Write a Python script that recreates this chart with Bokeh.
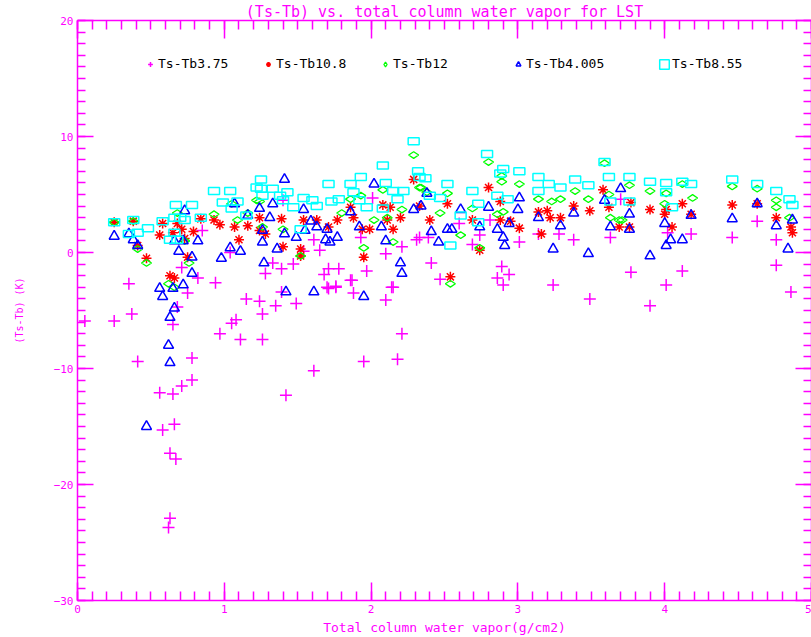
from bokeh.plotting import figure
from bokeh.models import Range1d, LinearAxis, SingleIntervalTicker, Legend, LegendItem, CustomJSTickFormatter
from bokeh.embed import file_html
from bokeh.resources import INLINE

# ---------------- data ----------------
wv_375 = [0.05, 0.35, 0.25, 0.37, 0.41, 0.65, 0.75, 0.68, 0.78, 0.78, 0.71, 0.56, 0.65, 0.66, 0.58, 0.63, 0.67, 0.63, 0.62,
          0.94, 1.15, 1.24, 1.35, 1.49, 1.26, 1.08, 1.05, 0.97, 1.11, 1.26,
          1.39, 1.71, 1.76, 1.88, 1.87, 2.14, 2.10, 2.21, 1.95, 2.18, 1.61, 1.42,
          2.41, 2.47, 2.89, 2.94, 2.86, 2.90, 3.24, 3.49, 3.77, 3.90, 4.01, 4.12, 4.76, 4.86,
          2.33, 2.39, 2.60, 2.74, 2.69, 2.81, 3.01, 3.14, 3.28, 3.38, 3.63, 4.02, 4.18, 4.46, 4.63, 4.76, 3.70,
          1.40, 1.61, 1.65, 1.54, 1.39, 1.47, 1.33, 1.28, 1.71, 1.68, 1.78, 1.97, 1.86, 1.76, 1.70, 1.93, 2.10, 2.21, 2.31, 2.01, 2.15,
          0.71, 0.82, 0.85, 1.04]
dt_375 = [-5.9, -2.7, -5.9, -5.3, -9.4, -6.2, -3.5, -4.7, -9.1, -11.0, -11.5, -12.1, -12.2, -14.8, -15.3, -17.3, -17.8, -22.9, -23.7,
          -2.6, -4.0, -4.2, -4.6, -4.4, -5.3, -5.8, -6.1, -7.0, -7.5, -7.5,
          -3.4, -3.1, -3.0, -3.5, -2.4, -3.0, -4.1, -7.0, -9.4, -9.2, -10.2, -12.3,
          -0.9, -2.3, -1.2, -1.9, -2.2, -2.8, -2.8, -4.0, -1.7, -4.6, -2.8, -1.6, -1.1, -3.4,
          1.3, 1.3, 2.5, 1.5, 0.7, 2.8, 0.9, 1.6, 1.6, 1.1, 1.3, 1.7, 1.6, 1.3, 2.7, 1.1, 4.6,
          4.5, 1.1, 0.2, 0.1, -1.4, -1.0, -0.9, -1.8, -1.4, -1.9, -1.4, -1.6, -2.4, -2.9, -3.0, 1.3, -0.1, 0.5, 1.1, 4.7, -3.0,
          -1.3, -2.2, 1.9, 0.0]

wv_108 = [0.25, 0.38, 0.41, 0.47, 0.56, 0.58, 0.65, 0.68, 0.71, 0.79, 0.75, 0.63, 0.66, 0.93, 0.97, 1.07, 1.10, 1.16, 0.84, 0.73,
          1.24, 1.24, 1.28, 1.39, 1.40, 1.52, 1.52, 1.54, 1.63, 1.71, 1.77, 1.86, 1.88, 1.94, 1.95, 1.99, 2.08, 2.11, 2.15, 2.20, 2.29, 2.33, 2.13,
          2.40, 2.52, 2.54, 2.74, 2.80, 2.88, 2.69, 2.88, 2.95, 3.01, 3.14, 3.20, 3.22, 3.29, 3.38, 3.49, 3.58, 3.62, 3.69, 3.16,
          3.76, 3.77, 3.90, 4.01, 4.00, 4.05, 4.12, 4.18, 4.46, 4.63, 4.76, 4.86, 4.87]
dt_108 = [2.6, 2.7, 0.6, -0.5, 1.5, 2.5, 1.7, 2.5, 2.0, 1.8, -0.4, -2.0, -2.2, 2.8, 2.4, 2.2, 1.1, 2.3, 2.9, 1.2,
          3.0, 1.9, 1.6, 2.9, 0.5, 0.3, -0.3, 2.8, 2.8, 2.2, 2.8, 3.9, 3.0, 2.0, -0.4, 2.0, 4.1, 2.8, 2.0, 3.0, 6.3, 4.0, 3.9,
          2.8, 4.2, -2.1, 0.2, 5.6, 4.4, 2.8, 2.8, 2.7, 2.1, 3.5, 3.6, 3.0, 3.0, 4.0, 3.6, 5.4, 3.9, 2.2, 1.6,
          2.2, 4.3, 3.7, 3.7, 3.3, 2.2, 4.2, 3.3, 4.1, 4.2, 3.0, 2.2, 1.7]

wv_12 = [0.25, 0.38, 0.41, 0.47, 0.68, 0.73, 0.76, 0.62, 0.66, 0.93,
         1.05, 1.09, 1.16, 1.22, 1.24, 1.26, 1.40, 1.52, 1.80, 1.86,
         1.93, 2.02, 2.08, 2.11, 2.15, 2.21, 2.29, 2.33, 1.95, 2.34,
         2.38, 2.52, 2.47, 2.61, 2.74, 2.54, 2.69, 2.80, 2.89, 2.89,
         3.01, 2.86, 2.90, 3.14, 3.23, 3.29, 3.39, 3.48, 3.59, 3.62,
         3.63, 3.69, 3.76, 3.90, 4.00, 4.01, 4.12, 4.19, 4.46, 4.63,
         4.76, 4.76, 4.85, 3.71]
dt_12 = [2.6, 2.7, 0.3, -0.9, 3.4, 1.0, -0.9, -2.7, -3.0, 3.3,
         4.2, 2.8, 3.4, 4.5, 4.4, 2.2, 2.0, -0.3, 3.4, 4.6,
         4.9, 2.8, 5.4, 3.0, 0.9, 3.7, 8.4, 5.6, 0.4, 5.6,
         5.2, 5.1, 3.4, 1.5, 0.4, -2.7, 3.8, 7.8, 6.1, 6.6,
         5.9, 3.3, 3.5, 4.6, 4.4, 4.6, 5.3, 4.6, 7.7, 5.0,
         3.0, 2.8, 5.8, 5.3, 4.2, 5.1, 5.9, 4.7, 5.7, 5.5,
         4.5, 3.9, 3.0, 2.8]

wv_4005 = [0.25, 0.35, 0.38, 0.41, 0.69, 0.73, 0.66, 0.72, 0.82, 0.78,
           0.98, 1.04, 1.11, 1.16, 1.07, 0.78, 0.56, 0.65, 0.72, 0.58,
           0.66, 0.63, 0.62, 0.63, 0.47, 1.42, 1.61, 1.95, 1.41, 1.33,
           1.24, 1.31, 1.26, 1.26, 1.27, 1.36, 1.41, 1.49, 1.59, 1.63,
           1.70, 1.69, 1.72, 1.77, 1.86, 2.02, 1.92, 2.07, 2.10, 2.20,
           2.21, 2.29, 2.34, 1.54, 1.55, 2.38, 2.41, 2.46, 2.52, 2.55,
           2.61, 2.74, 2.80, 2.86, 2.90, 2.91, 2.94, 3.00, 3.01, 3.14,
           3.24, 3.29, 3.38, 3.48, 3.59, 3.63, 3.70, 3.76, 3.76, 3.90,
           4.00, 4.01, 4.04, 4.12, 4.18, 4.46, 4.63, 4.76, 4.87, 4.84]
dt_4005 = [1.4, 1.6, 1.1, 0.6, 0.1, 3.6, 1.0, 1.0, 1.0, -1.8,
           -0.5, 0.4, 0.1, 3.2, 4.2, -0.4, -3.1, -3.1, -2.8, -3.8,
           -4.8, -5.6, -8.0, -9.5, -15.0, -3.4, -3.4, -3.8, 6.3, 4.2,
           3.8, 3.0, 1.9, 0.9, -0.9, 0.3, 1.6, 1.3, 2.7, 2.2,
           2.0, 1.1, 0.9, 1.3, 3.5, 5.9, 2.2, 2.2, 1.0, -0.9,
           -1.8, 3.7, 4.0, 3.7, 1.9, 5.1, 1.8, 0.9, 2.0, 2.0,
           3.7, 2.2, 3.9, 2.0, 1.3, 0.6, 2.5, 3.7, 4.7, 3.0,
           0.3, 2.3, 3.4, -0.1, 4.5, 2.2, 5.5, 3.3, 2.0, -0.3,
           2.5, 0.6, 1.1, 1.1, 3.2, 2.9, 4.2, 2.3, 2.8, 0.3]

wv_855 = [0.25, 0.38, 0.35, 0.41, 0.48, 0.58, 0.67, 0.78, 0.66, 0.70,
          0.73, 0.84, 0.66, 0.63, 0.68, 0.93, 1.04, 0.99, 1.09, 1.05,
          1.15, 1.22, 1.25, 1.25, 1.33, 1.26, 1.38, 1.43, 1.40, 1.54,
          1.60, 1.47, 1.63, 1.71, 1.78, 1.73, 1.86, 1.93, 1.88, 1.92,
          1.97, 2.08, 2.10, 2.15, 2.22, 2.18, 2.32, 2.33, 2.29, 1.52,
          2.08, 2.37, 2.52, 2.40, 2.47, 2.69, 2.79, 2.90, 2.88, 3.01,
          2.86, 2.93, 2.73, 2.61, 2.73, 2.54, 3.14, 3.21, 3.29, 3.14,
          3.39, 3.48, 3.59, 3.62, 3.76, 3.63, 3.76, 3.90, 4.01, 4.12,
          4.18, 4.01, 4.05, 4.46, 4.63, 4.76, 4.85, 4.87]
dt_855 = [2.6, 2.8, 1.6, 1.7, 2.1, 2.7, 4.1, 4.1, 3.0, 3.0,
          2.8, 3.0, 1.7, 1.1, 1.1, 5.3, 5.3, 4.3, 4.4, 3.8,
          3.2, 5.6, 6.3, 5.5, 5.5, 4.9, 4.9, 5.2, 4.5, 4.7,
          4.5, 3.9, 4.0, 5.9, 4.6, 4.4, 5.9, 6.5, 5.2, 4.5,
          3.9, 7.5, 6.0, 5.3, 5.3, 4.6, 7.0, 6.5, 9.6, 2.0,
          3.8, 6.4, 5.9, 4.9, 4.7, 5.3, 8.5, 7.2, 6.8, 7.0,
          4.9, 4.6, 4.2, 3.2, 2.6, 0.6, 6.5, 5.9, 5.6, 5.3,
          6.3, 5.8, 7.8, 6.5, 6.5, 4.4, 4.4, 6.1, 6.0, 6.1,
          5.9, 5.2, 3.9, 6.3, 5.9, 5.3, 4.6, 4.1]

labels = ["Ts-Tb3.75", "Ts-Tb10.8", "Ts-Tb12", "Ts-Tb4.005", "Ts-Tb8.55"]
x_ticks_major = 1
y_ticks_major = 10

# ---------------- styling ----------------
MAG = "#ff00ff"
FONT = "DejaVu Sans Mono"

p = figure(width=811, height=637, output_backend="svg", toolbar_location=None,
           x_range=Range1d(0, 5), y_range=Range1d(-30, 20),
           min_border_left=77, min_border_right=0, min_border_top=12, min_border_bottom=37)
p.outline_line_color = None
p.xgrid.visible = False
p.ygrid.visible = False
p.background_fill_color = "white"
p.border_fill_color = "white"

p.title.text = "(Ts-Tb) vs. total column water vapor for LST"
p.title.align = "center"
p.title.text_color = MAG
p.title.text_font = FONT
p.title.text_font_size = "15px"
p.title.text_font_style = "normal"
p.title.standoff = 0


def style_axis(ax, tick_major, tick_minor, labels_on=True):
    ax.axis_line_color = MAG
    ax.axis_line_width = 1.5
    ax.major_tick_line_color = MAG
    ax.minor_tick_line_color = MAG
    ax.major_tick_line_width = 1.5
    ax.minor_tick_line_width = 1.5
    ax.major_tick_in = tick_major
    ax.major_tick_out = 0
    ax.minor_tick_in = tick_minor
    ax.minor_tick_out = 0
    ax.major_label_text_color = MAG
    ax.major_label_text_font = FONT
    ax.major_label_text_font_size = "11px"
    if labels_on:
        ax.major_label_standoff = 4
    else:
        ax.major_label_standoff = 0
        ax.formatter = CustomJSTickFormatter(code="return ''")


xticker = SingleIntervalTicker(interval=x_ticks_major, num_minor_ticks=10)
yticker = SingleIntervalTicker(interval=y_ticks_major, num_minor_ticks=10)

xb = p.xaxis[0]
xb.ticker = xticker
style_axis(xb, 18, 9)
xb.axis_label = "Total column water vapor(g/cm2)"
xb.axis_label_text_color = MAG
xb.axis_label_text_font = FONT
xb.axis_label_text_font_size = "13px"
xb.axis_label_text_font_style = "normal"
xb.axis_label_standoff = 4

yl = p.yaxis[0]
yl.ticker = yticker
style_axis(yl, 16, 8)
yl.axis_label = "(Ts-Tb) (K)"
yl.axis_label_text_color = MAG
yl.axis_label_text_font = FONT
yl.axis_label_text_font_size = "10px"
yl.axis_label_text_font_style = "normal"
yl.axis_label_standoff = 26

xt = LinearAxis(ticker=SingleIntervalTicker(interval=x_ticks_major, num_minor_ticks=10))
style_axis(xt, 18, 9, labels_on=False)
p.add_layout(xt, "above")
yr = LinearAxis(ticker=SingleIntervalTicker(interval=y_ticks_major, num_minor_ticks=10))
style_axis(yr, 16, 8, labels_on=False)
p.add_layout(yr, "right")

# ---------------- series ----------------
r1 = p.scatter(wv_375, dt_375, marker="cross", size=12, line_color="#ff00ff", line_width=1.5)
r2 = p.scatter(wv_108, dt_108, marker="asterisk", size=10, line_color="#ff0000", line_width=1.5)
r3 = p.scatter(wv_12, dt_12, marker="diamond", size=10, angle=1.5708, fill_color=None,
               line_color="#00ff00", line_width=1.3)
r4 = p.scatter(wv_4005, dt_4005, marker="triangle", size=10, fill_color=None,
               line_color="#0000ff", line_width=1.5)
r5 = p.rect(wv_855, dt_855, width=11, height=7, width_units="screen", height_units="screen",
            fill_color=None, line_color="#00ffff", line_width=1.5)

# ---------------- legend (one entry each, placed like the reference) ----------------
legend_x = [67, 185, 302, 435, 581]
for lab, r, lx in zip(labels, [r1, r2, r3, r4, r5], legend_x):
    lg = Legend(items=[LegendItem(label=lab, renderers=[r])], location=(lx, 529),
                orientation="horizontal", padding=0, margin=0, spacing=0,
                glyph_width=12, glyph_height=12, label_standoff=2, label_height=12,
                border_line_color=None, background_fill_alpha=0,
                label_text_font=FONT, label_text_font_size="13px", label_text_color="black")
    p.add_layout(lg)

open("out.html", "w").write(file_html(p, INLINE))
